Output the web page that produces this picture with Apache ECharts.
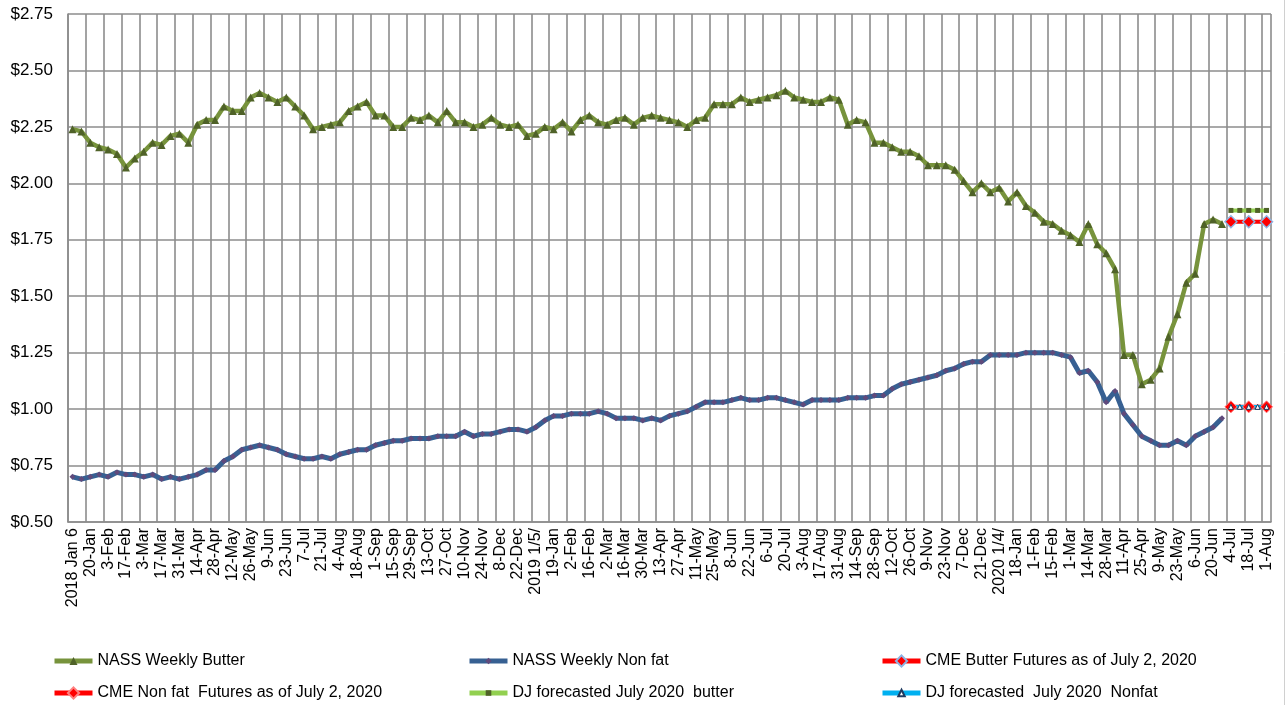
<!DOCTYPE html>
<html>
<head>
<meta charset="utf-8">
<script src="https://cdn.jsdelivr.net/npm/echarts@6/dist/echarts.min.js"></script>
<style>
  html, body { margin: 0; padding: 0; background: #fff; }
  #chart { width: 1286px; height: 705px; }
</style>
</head>
<body>
<div id="chart"></div>
<script>
// weekly categories, Jan 2018 - Aug 2020 (labels shown every other week)
const weeks = [
  '2018 Jan 6', '13-Jan', '20-Jan', '27-Jan', '3-Feb', '10-Feb', '17-Feb', '24-Feb', '3-Mar', '10-Mar',
  '17-Mar', '24-Mar', '31-Mar', '7-Apr', '14-Apr', '21-Apr', '28-Apr', '5-May', '12-May', '19-May',
  '26-May', '2-Jun', '9-Jun', '16-Jun', '23-Jun', '30-Jun', '7-Jul', '14-Jul', '21-Jul', '28-Jul',
  '4-Aug', '11-Aug', '18-Aug', '25-Aug', '1-Sep', '8-Sep', '15-Sep', '22-Sep', '29-Sep', '6-Oct',
  '13-Oct', '20-Oct', '27-Oct', '3-Nov', '10-Nov', '17-Nov', '24-Nov', '1-Dec', '8-Dec', '15-Dec',
  '22-Dec', '29-Dec',
  '2019 1/5/', '12-Jan', '19-Jan', '26-Jan', '2-Feb', '9-Feb', '16-Feb', '23-Feb', '2-Mar', '9-Mar',
  '16-Mar', '23-Mar', '30-Mar', '6-Apr', '13-Apr', '20-Apr', '27-Apr', '4-May', '11-May', '18-May',
  '25-May', '1-Jun', '8-Jun', '15-Jun', '22-Jun', '29-Jun', '6-Jul', '13-Jul', '20-Jul', '27-Jul',
  '3-Aug', '10-Aug', '17-Aug', '24-Aug', '31-Aug', '7-Sep', '14-Sep', '21-Sep', '28-Sep', '5-Oct',
  '12-Oct', '19-Oct', '26-Oct', '2-Nov', '9-Nov', '16-Nov', '23-Nov', '30-Nov', '7-Dec', '14-Dec',
  '21-Dec', '28-Dec',
  '2020 1/4/', '11-Jan', '18-Jan', '25-Jan', '1-Feb', '8-Feb', '15-Feb', '22-Feb', '1-Mar', '7-Mar',
  '14-Mar', '21-Mar', '28-Mar', '4-Apr', '11-Apr', '18-Apr', '25-Apr', '2-May', '9-May', '16-May',
  '23-May', '30-May', '6-Jun', '13-Jun', '20-Jun', '27-Jun', '4-Jul', '11-Jul', '18-Jul', '25-Jul',
  '1-Aug'
];

const nassButter = [
  2.24, 2.23, 2.18, 2.16, 2.15, 2.13, 2.07, 2.11, 2.14, 2.18,
  2.17, 2.21, 2.22, 2.18, 2.26, 2.28, 2.28, 2.34, 2.32, 2.32,
  2.38, 2.40, 2.38, 2.36, 2.38, 2.34, 2.30, 2.24, 2.25, 2.26,
  2.27, 2.32, 2.34, 2.36, 2.30, 2.30, 2.25, 2.25, 2.29, 2.28,
  2.30, 2.27, 2.32, 2.27, 2.27, 2.25, 2.26, 2.29, 2.26, 2.25,
  2.26, 2.21, 2.22, 2.25, 2.24, 2.27, 2.23, 2.28, 2.30, 2.27,
  2.26, 2.28, 2.29, 2.26, 2.29, 2.30, 2.29, 2.28, 2.27, 2.25,
  2.28, 2.29, 2.35, 2.35, 2.35, 2.38, 2.36, 2.37, 2.38, 2.39,
  2.41, 2.38, 2.37, 2.36, 2.36, 2.38, 2.37, 2.26, 2.28, 2.27,
  2.18, 2.18, 2.16, 2.14, 2.14, 2.12, 2.08, 2.08, 2.08, 2.06,
  2.01, 1.96, 2.00, 1.96, 1.98, 1.92, 1.96, 1.90, 1.87, 1.83,
  1.82, 1.79, 1.77, 1.74, 1.82, 1.73, 1.69, 1.62, 1.24, 1.24,
  1.11, 1.13, 1.18, 1.32, 1.42, 1.56, 1.60, 1.82, 1.84, 1.82
];

const nassNonfat = [
  0.70, 0.69, 0.70, 0.71, 0.70, 0.72, 0.71, 0.71, 0.70, 0.71,
  0.69, 0.70, 0.69, 0.70, 0.71, 0.73, 0.73, 0.77, 0.79, 0.82,
  0.83, 0.84, 0.83, 0.82, 0.80, 0.79, 0.78, 0.78, 0.79, 0.78,
  0.80, 0.81, 0.82, 0.82, 0.84, 0.85, 0.86, 0.86, 0.87, 0.87,
  0.87, 0.88, 0.88, 0.88, 0.90, 0.88, 0.89, 0.89, 0.90, 0.91,
  0.91, 0.90, 0.92, 0.95, 0.97, 0.97, 0.98, 0.98, 0.98, 0.99,
  0.98, 0.96, 0.96, 0.96, 0.95, 0.96, 0.95, 0.97, 0.98, 0.99,
  1.01, 1.03, 1.03, 1.03, 1.04, 1.05, 1.04, 1.04, 1.05, 1.05,
  1.04, 1.03, 1.02, 1.04, 1.04, 1.04, 1.04, 1.05, 1.05, 1.05,
  1.06, 1.06, 1.09, 1.11, 1.12, 1.13, 1.14, 1.15, 1.17, 1.18,
  1.20, 1.21, 1.21, 1.24, 1.24, 1.24, 1.24, 1.25, 1.25, 1.25,
  1.25, 1.24, 1.23, 1.16, 1.17, 1.12, 1.03, 1.08, 0.98, 0.93,
  0.88, 0.86, 0.84, 0.84, 0.86, 0.84, 0.88, 0.90, 0.92, 0.96
];

// futures / forecasts for 4-Jul .. 1-Aug 2020
const cmeButter = [1.83, 1.83, 1.83, 1.83, 1.83];
const cmeNonfat = [1.01, 1.01, 1.01, 1.01, 1.01];
const djButter = [1.88, 1.88, 1.88, 1.88, 1.88];
const djNonfat = [1.01, 1.01, 1.01, 1.01, 1.01];

const yTicks = [0.5, 0.75, 1.0, 1.25, 1.5, 1.75, 2.0, 2.25, 2.5, 2.75];

const FONT = 'Liberation Sans, Arial, sans-serif';
const GRID = '#8c8c8c';

// put the forecast values after the history
function future(vals) {
  return new Array(nassButter.length).fill(null).concat(vals);
}

const chart = echarts.init(document.getElementById('chart'));

// one legend per entry so the three columns line up like the excel one
function legendAt(name, left, top, symH) {
  return {
    data: [name],
    left: left,
    top: top,
    padding: 0,
    itemWidth: 38,
    itemHeight: symH,
    itemGap: 0,
    selectedMode: false,
    lineStyle: { width: 5 },
    textStyle: { fontFamily: FONT, fontSize: 16, color: '#000' }
  };
}

chart.setOption({
  animation: false,
  backgroundColor: '#fff',
  grid: { left: 68, right: 15, top: 14, bottom: 183, containLabel: false },
  legend: [
    legendAt('NASS Weekly Butter', 52, 653, 10),
    legendAt('NASS Weekly Non fat', 467, 653, 8),
    legendAt('CME Butter Futures as of July 2, 2020', 880, 653, 14),
    legendAt('CME Non fat  Futures as of July 2, 2020', 52, 685, 14),
    legendAt('DJ forecasted July 2020  butter', 467, 685, 7),
    legendAt('DJ forecasted  July 2020  Nonfat', 880, 685, 8)
  ],
  graphic: [{
    type: 'line',
    shape: { x1: 1284.5, y1: 0, x2: 1284.5, y2: 705 },
    style: { stroke: '#d0d0d0', lineWidth: 1 }
  }],
  xAxis: {
    type: 'category',
    data: weeks,
    boundaryGap: true,
    axisLine: { show: true, lineStyle: { color: GRID, width: 1.6 } },
    axisTick: { show: false },
    axisLabel: {
      interval: 1,
      rotate: 90,
      margin: 6,
      color: '#000',
      fontFamily: FONT,
      fontSize: 16
    },
    splitLine: { show: true, interval: 1, lineStyle: { color: GRID, width: 1.6 } }
  },
  yAxis: {
    type: 'value',
    min: yTicks[0],
    max: yTicks[yTicks.length - 1],
    interval: 0.25,
    axisLine: { show: true, lineStyle: { color: GRID, width: 1.6 } },
    axisTick: { show: false },
    axisLabel: {
      margin: 15,
      color: '#000',
      fontFamily: FONT,
      fontSize: 17,
      formatter: v => '$' + v.toFixed(2)
    },
    splitLine: { show: true, lineStyle: { color: GRID, width: 1.6 } }
  },
  series: [
    {
      name: 'NASS Weekly Butter',
      type: 'line',
      data: nassButter,
      symbol: 'triangle',
      symbolSize: 8,
      showAllSymbol: true,
      lineStyle: { color: '#77933C', width: 4.5 },
      itemStyle: { color: '#4F6228' }
    },
    {
      name: 'NASS Weekly Non fat',
      type: 'line',
      data: nassNonfat,
      symbol: 'diamond',
      symbolSize: 6,
      showAllSymbol: true,
      lineStyle: { color: '#376092', width: 5 },
      itemStyle: { color: '#604A7B' }
    },
    {
      name: 'CME Butter Futures as of July 2, 2020',
      type: 'line',
      data: future(cmeButter),
      symbol: 'diamond',
      symbolSize: 12,
      lineStyle: { color: '#FF0000', width: 4 },
      itemStyle: { color: '#FF0000', borderColor: '#8EB4E3', borderWidth: 1.5 }
    },
    {
      name: 'CME Non fat  Futures as of July 2, 2020',
      type: 'line',
      data: future(cmeNonfat),
      symbol: 'diamond',
      symbolSize: 12,
      lineStyle: { color: '#FF0000', width: 4 },
      itemStyle: { color: '#FF0000', borderColor: '#FF8080', borderWidth: 1 }
    },
    {
      name: 'DJ forecasted July 2020  butter',
      type: 'line',
      data: future(djButter),
      symbol: 'rect',
      symbolSize: 5,
      lineStyle: { color: '#92D050', width: 4 },
      itemStyle: { color: '#4F6228' }
    },
    {
      name: 'DJ forecasted  July 2020  Nonfat',
      type: 'line',
      data: future(djNonfat),
      symbol: 'triangle',
      symbolSize: 5,
      lineStyle: { color: '#00B0F0', width: 3.5 },
      itemStyle: { color: '#ffffff', borderColor: '#1F3A5F', borderWidth: 1 }
    }
  ]
});
</script>
</body>
</html>
